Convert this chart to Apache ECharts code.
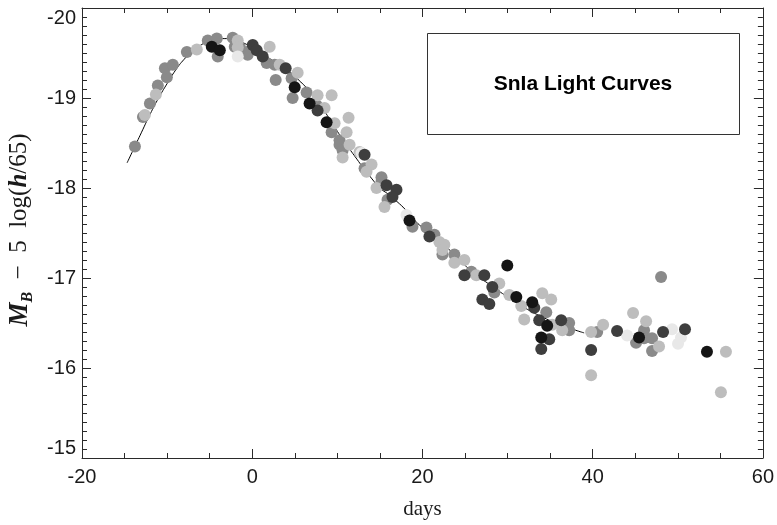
<!DOCTYPE html>
<html>
<head>
<meta charset="utf-8">
<script src="https://cdn.jsdelivr.net/npm/echarts@6/dist/echarts.min.js"></script>
<style>
html,body{margin:0;padding:0;background:#fff;}
#chart{width:777px;height:525px;}
</style>
</head>
<body>
<div id="chart"></div>
<script>
// ---- Data (days since B maximum, absolute magnitude) ----
const xTicks = [-20, 0, 20, 40, 60];
const yTicks = [-20, -19, -18, -17, -16, -15];

const templateDays = [-14.7,-14,-13,-12,-11,-10,-9,-8,-7,-6,-5,-4,-3,-2,-1,0,1,2,3,4,5,6,7,8,9,10,11,12,13,14,15,16,17,18,19,20,21,22,23,24,26,28,30,32,34,36,38,39];
const templateMags = [-18.28,-18.42,-18.62,-18.82,-19.00,-19.16,-19.31,-19.43,-19.52,-19.59,-19.64,-19.66,-19.66,-19.64,-19.61,-19.56,-19.50,-19.44,-19.38,-19.32,-19.24,-19.15,-19.05,-18.92,-18.78,-18.63,-18.49,-18.36,-18.23,-18.11,-18.00,-17.93,-17.85,-17.76,-17.65,-17.56,-17.49,-17.42,-17.33,-17.23,-17.06,-16.92,-16.79,-16.67,-16.57,-16.49,-16.42,-16.39];

const ptsMid = [[-13.78,-18.46],[-12.84,-18.79],[-12.02,-18.94],[-11.09,-19.14],[-10.03,-19.23],[-10.26,-19.33],[-9.33,-19.37],[-7.68,-19.51],[-5.22,-19.64],[-4.16,-19.66],[-4.05,-19.46],[-2.29,-19.67],[-2.05,-19.57],[-1.47,-19.57],[-0.65,-19.51],[-0.53,-19.48],
[1.70,-19.39],[2.64,-19.37],[4.63,-19.22],[2.76,-19.20],[4.75,-19.00],[6.39,-19.06],[7.57,-18.92],[9.33,-18.62],[10.26,-18.53],[10.26,-18.48],[10.62,-18.42],
[13.20,-18.22],[15.19,-18.12],[15.19,-18.07],[15.90,-17.87],[18.83,-17.57],[20.47,-17.56],[21.41,-17.48],[22.35,-17.26],[23.75,-17.26],
[25.75,-17.07],[28.45,-16.84],[34.55,-16.62],[37.24,-16.50],[37.24,-16.42],
[40.53,-16.40],[45.10,-16.28],[46.04,-16.42],[46.04,-16.33],[46.98,-16.33],[46.98,-16.19],[48.04,-17.01]];

const ptsLight = [[-12.61,-18.81],[-11.32,-19.04],[-6.51,-19.54],[-1.70,-19.64],[-1.70,-19.56],
[2.05,-19.57],[3.23,-19.37],[5.34,-19.28],[7.68,-19.03],[9.33,-19.03],[8.50,-18.89],[9.68,-18.72],[11.32,-18.78],[11.09,-18.62],[11.44,-18.48],[12.61,-18.40],[10.62,-18.34],
[14.02,-18.26],[13.43,-18.18],[14.60,-18.00],[15.54,-17.79],[21.99,-17.40],[22.58,-17.37],[22.35,-17.31],
[23.75,-17.17],[24.93,-17.20],[26.33,-17.03],[29.03,-16.94],[30.21,-16.81],[31.61,-16.69],[31.96,-16.54],[34.08,-16.83],[35.13,-16.76],[35.25,-16.48],[36.42,-16.42],
[39.82,-16.40],[41.23,-16.48],[39.82,-15.92],[44.75,-16.61],[46.28,-16.52],[47.80,-16.24],[55.66,-16.18],[55.07,-15.73]];

const ptsVeryLight = [[-1.70,-19.46],[12.84,-18.39],[18.12,-17.70],[44.05,-16.36],[49.33,-16.43],[50.38,-16.34],[50.03,-16.27]];

const ptsDark = [[0.06,-19.59],[0.53,-19.53],[1.23,-19.46],[3.93,-19.33],[7.68,-18.86],
[13.20,-18.37],[15.78,-18.03],[16.95,-17.98],[16.48,-17.90],[20.82,-17.46],
[24.93,-17.03],[27.27,-17.03],[28.21,-16.90],[27.04,-16.76],[27.86,-16.71],[33.14,-16.67],[33.72,-16.53],[36.30,-16.53],[34.90,-16.32],[33.96,-16.21],
[42.87,-16.41],[39.82,-16.20],[48.27,-16.40],[50.85,-16.43]];

const ptsBlack = [[-4.75,-19.57],[-3.81,-19.53],[4.99,-19.12],[6.74,-18.94],[8.74,-18.73],[18.48,-17.64],[29.97,-17.14],[31.03,-16.79],[32.90,-16.73],[34.66,-16.47],[33.96,-16.34],[45.45,-16.34],[53.43,-16.18]];

const titleText = 'SnIa Light Curves';

// ---- Chart ----
const chart = echarts.init(document.getElementById('chart'), null, {renderer: 'canvas'});
const axisColor = '#2a2a2a';
const labelFont = "'Liberation Sans Narrow','Liberation Sans',Arial,sans-serif";
const serif = "'Liberation Serif','Times New Roman',serif";

function xAx(pos, showLabel) {
  return {
    type: 'value', position: pos, min: xTicks[0], max: xTicks[xTicks.length-1], interval: 20,
    axisLine: {show: true, onZero: false, lineStyle: {color: axisColor, width: 1}},
    axisTick: {show: true, inside: true, length: 9, lineStyle: {color: axisColor}},
    minorTick: {show: true, splitNumber: 4, length: 5, lineStyle: {color: axisColor}},
    splitLine: {show: false},
    axisLabel: {show: showLabel, margin: 9, color: '#1a1a1a', fontSize: 20, fontFamily: labelFont},
    name: showLabel ? 'days' : '', nameLocation: 'middle', nameGap: 41,
    nameTextStyle: {fontFamily: serif, fontSize: 21, color: '#1a1a1a'}
  };
}
function yAx(pos, showLabel) {
  return {
    type: 'value', position: pos, inverse: true, min: yTicks[0], max: yTicks[yTicks.length-1], interval: 1,
    axisLine: {show: true, onZero: false, lineStyle: {color: axisColor, width: 1}},
    axisTick: {show: true, inside: true, length: 9, lineStyle: {color: axisColor}},
    minorTick: {show: true, splitNumber: 10, length: 5, lineStyle: {color: axisColor}},
    splitLine: {show: false},
    axisLabel: {show: showLabel, margin: 6, color: '#1a1a1a', fontSize: 20, fontFamily: labelFont,
      verticalAlignMinLabel: 'top', verticalAlignMaxLabel: 'bottom'}
  };
}

function scatter(name, data, color) {
  return {
    name: name, type: 'scatter', xAxisIndex: 0, yAxisIndex: 0, data: data,
    symbol: 'circle', symbolSize: 12, itemStyle: {color: color, opacity: 1},
    emphasis: {disabled: true}, z: 3
  };
}

const option = {
  backgroundColor: '#ffffff',
  animation: false,
  grid: {left: 82, right: 13, top: 8, bottom: 67, containLabel: false},
  xAxis: [xAx('bottom', true), xAx('top', false)],
  yAxis: [yAx('left', true), yAx('right', false)],
  series: [
    {
      name: 'template', type: 'line', xAxisIndex: 0, yAxisIndex: 0,
      data: templateDays.map((d, i) => [d, templateMags[i]]),
      showSymbol: false, smooth: true, lineStyle: {color: '#000', width: 1}, z: 2, silent: true
    },
    scatter('mid', ptsMid, '#8a8a8a'),
    scatter('light', ptsLight, '#bdbdbd'),
    scatter('verylight', ptsVeryLight, '#e8e8e8'),
    scatter('dark', ptsDark, '#3e3e3e'),
    scatter('black', ptsBlack, '#151515')
  ],
  graphic: [
    {
      type: 'rect', left: 427, top: 33, z: 10,
      shape: {width: 312, height: 101},
      style: {fill: '#fff', stroke: '#333', lineWidth: 1}
    },
    {
      type: 'text', x: 583, y: 84, z: 11,
      style: {text: titleText, font: "bold 21px 'Liberation Sans', Arial, sans-serif", fill: '#000',
        align: 'center', verticalAlign: 'middle'}
    },
    {
      type: 'text', x: 23, y: 230, rotation: Math.PI / 2, z: 11,
      style: {
        text: '{m|M}{b|B}{t|  −  5  log(}{h|h}{t|/65)}',
        align: 'center', verticalAlign: 'middle',
        rich: {
          m: {fontFamily: serif, fontSize: 27, fontStyle: 'italic', fontWeight: 'bold', fill: '#1a1a1a', lineHeight: 32, verticalAlign: 'top'},
          b: {fontFamily: serif, fontSize: 16, fontStyle: 'italic', fontWeight: 'bold', fill: '#1a1a1a', lineHeight: 32, padding: [13, 0, 0, 0], verticalAlign: 'top'},
          t: {fontFamily: serif, fontSize: 25, fill: '#1a1a1a', lineHeight: 32, verticalAlign: 'top'},
          h: {fontFamily: serif, fontSize: 25, fontStyle: 'italic', fontWeight: 'bold', fill: '#1a1a1a', lineHeight: 32, verticalAlign: 'top'}
        }
      }
    }
  ]
};
chart.setOption(option);
</script>
</body>
</html>
